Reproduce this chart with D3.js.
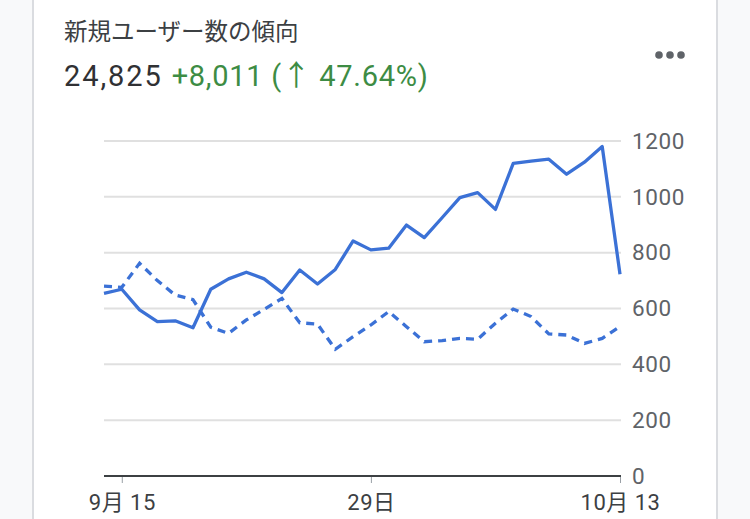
<!DOCTYPE html>
<html>
<head>
<meta charset="utf-8">
<script src="https://cdn.jsdelivr.net/npm/d3@7"></script>
<style>
  body { margin: 0; background: #f8f9fa; }
  svg { display: block; }
  text { font-family: Roboto, "Noto Sans CJK JP", sans-serif; }
</style>
</head>
<body>
<svg id="chart"></svg>
<script>
// chart size, same as the screenshot
const width = 750;
const height = 519;

// daily dates, 9/14 .. 10/13 (30 days)
const startDate = new Date(2023, 8, 14);
const dayCount = 30;

// new users, current period (solid line)
const currentUsers = [654, 669, 595, 553, 556, 531, 669, 706, 730, 706,
    657, 738, 688, 740, 842, 810, 816, 899, 854, 925,
    997, 1015, 955, 1120, 1128, 1135, 1081, 1124, 1180, 723];

// new users, previous period (dotted line)
const previousUsers = [680, 676, 762, 700, 648, 632, 533, 511, 559, 597,
    636, 549, 544, 454, 499, 541, 589, 535, 481, 485,
    493, 490, 547, 598, 571, 509, 505, 475, 493, 535];

// axis ticks
const yTicks = [0, 200, 400, 600, 800, 1000, 1200];
const xTickDates = [new Date(2023, 8, 15), new Date(2023, 8, 29), new Date(2023, 9, 13)];
const xTickLabels = ["9月 15", "29日", "10月 13"];

// header texts
const title = "新規ユーザー数の傾向";
const total = "24,825";
const change = "+8,011 (↑ 47.64%)";

const dates = d3.range(dayCount).map(i => d3.timeDay.offset(startDate, i));

const svg = d3.select("#chart")
    .attr("width", width)
    .attr("height", height);

// white card
svg.append("rect")
    .attr("x", 33)
    .attr("y", -10)
    .attr("width", 684)
    .attr("height", height + 20)
    .attr("fill", "#fff")
    .attr("stroke", "#dadce0")
    .attr("stroke-width", 2);

// header
svg.append("text")
    .attr("x", 64)
    .attr("y", 40)
    .attr("font-size", 23.5)
    .attr("fill", "#3c4043")
    .text(title);

const headline = svg.append("text")
    .attr("x", 64)
    .attr("y", 86)
    .attr("font-size", 29);
headline.append("tspan")
    .attr("fill", "#303134")
    .attr("letter-spacing", 1.9)
    .text(total + " ");
headline.append("tspan")
    .attr("fill", "#3d8c44")
    .attr("letter-spacing", 0.7)
    .text(change);

// "more" dots
svg.selectAll("circle.more")
    .data([659, 670, 681])
    .join("circle")
    .attr("class", "more")
    .attr("cx", d => d)
    .attr("cy", 55)
    .attr("r", 3.8)
    .attr("fill", "#5f6368");

// scales
const x = d3.scaleTime()
    .domain([dates[0], dates[dates.length - 1]])
    .range([104, 620]);

const y = d3.scaleLinear()
    .domain([0, 1200])
    .range([476, 141]);

// grid lines
svg.append("g")
    .selectAll("line")
    .data(yTicks.filter(d => d > 0))
    .join("line")
    .attr("x1", 104)
    .attr("x2", 621)
    .attr("y1", d => y(d))
    .attr("y2", d => y(d))
    .attr("stroke", "#e0e0e0")
    .attr("stroke-width", 2);

// y axis on the right
const yAxis = svg.append("g")
    .attr("transform", "translate(621,0)")
    .call(d3.axisRight(y)
        .tickValues(yTicks)
        .tickFormat(d3.format("d"))
        .tickSize(0)
        .tickPadding(11));
yAxis.select(".domain").remove();
yAxis.selectAll("text")
    .attr("font-size", 22.5)
    .attr("letter-spacing", 0.6)
    .attr("fill", "#5f6368")
    .attr("font-family", "Roboto, sans-serif");

// x axis
const xAxis = svg.append("g")
    .attr("transform", "translate(0,477)")
    .call(d3.axisBottom(x)
        .tickValues(xTickDates)
        .tickSize(6)
        .tickPadding(11)
        .tickFormat((d, i) => xTickLabels[i]));
xAxis.select(".domain").remove();
xAxis.selectAll("line").attr("stroke", "#9aa0a6");
xAxis.selectAll("text")
    .attr("font-size", 22)
    .attr("letter-spacing", 0.5)
    .attr("fill", "#3c4043");

// baseline
svg.append("line")
    .attr("x1", 104)
    .attr("x2", 621)
    .attr("y1", y(0))
    .attr("y2", y(0))
    .attr("stroke", "#3c4043")
    .attr("stroke-width", 2);

const line = d3.line()
    .x((d, i) => x(dates[i]))
    .y(d => y(d));

// previous period, dotted
svg.append("path")
    .datum(previousUsers)
    .attr("d", line)
    .attr("fill", "none")
    .attr("stroke", "#3b71d6")
    .attr("stroke-width", 3.3)
    .attr("stroke-dasharray", "8,6");

// current period, solid
svg.append("path")
    .datum(currentUsers)
    .attr("d", line)
    .attr("fill", "none")
    .attr("stroke", "#3b71d6")
    .attr("stroke-width", 3.3)
    .attr("stroke-linejoin", "round");
</script>
</body>
</html>
